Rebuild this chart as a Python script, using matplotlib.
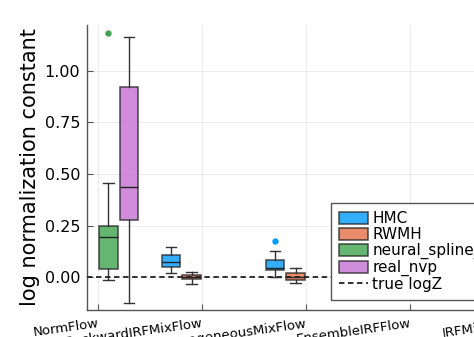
import matplotlib
matplotlib.use('Agg')
import matplotlib.pyplot as plt
from matplotlib.patches import Patch
from matplotlib.lines import Line2D

# x categories (tick positions at 0.5, 1.5, ...)
categories = ['NormFlow', 'BackwardIRFMixFlow', 'HomogeneousMixFlow',
              'EnsembleIRFFlow', 'IRFMixFlow']
methods = ['HMC', 'RWMH', 'neural_spline_flow', 'real_nvp']
colors = ['#009AFA', '#E36F47', '#3EA44E', '#C371D2']
offsets = [-0.3, -0.1, 0.1, 0.3]

# box stats: (category index, method index)
box_cat = [0, 0, 1, 1, 2, 2]
box_method = [2, 3, 0, 1, 0, 1]
whislo = [-0.015, -0.125, 0.019, -0.034, 0.000, -0.031]
q1 = [0.037, 0.277, 0.049, -0.010, 0.035, -0.015]
med = [0.193, 0.438, 0.073, 0.001, 0.042, 0.002]
q3 = [0.248, 0.921, 0.105, 0.010, 0.081, 0.019]
whishi = [0.455, 1.167, 0.147, 0.023, 0.128, 0.045]
fliers = [[1.183], [], [], [], [0.175], []]

true_logZ = 0.0

fig = plt.figure(figsize=(4.74, 3.37), dpi=100)
ax = fig.add_axes([87/474, 1-310/337, (525-87)/474, (310-25)/337])

for i in range(len(box_cat)):
    c = colors[box_method[i]]
    pos = box_cat[i] + 0.5 + offsets[box_method[i]]
    st = dict(whislo=whislo[i], q1=q1[i], med=med[i], q3=q3[i],
              whishi=whishi[i], fliers=fliers[i])
    ax.bxp([st], positions=[pos], widths=0.178, capwidths=0.1,
           patch_artist=True, manage_ticks=False,
           boxprops=dict(facecolor=c, alpha=0.8, edgecolor='#222222', lw=1.1),
           medianprops=dict(color='#222222', lw=1.0),
           whiskerprops=dict(color='#333333', lw=1.0),
           capprops=dict(color='#333333', lw=1.0),
           flierprops=dict(marker='o', markerfacecolor=c, markeredgecolor=c,
                           markersize=3.5))

ax.axhline(true_logZ, color='#222222', ls=(0, (3, 2)), lw=1.3, zorder=5)

ax.set_xlim(0.394, 4.606)
ax.set_ylim(-0.160, 1.223)
ax.set_xticks([k + 0.5 for k in range(len(categories))])
ax.set_xticklabels(categories, rotation=8, ha='right', va='top',
                   rotation_mode='anchor', fontsize=9.5)
ax.set_yticks([0, 0.25, 0.5, 0.75, 1.0])
ax.set_yticklabels(['0.00', '0.25', '0.50', '0.75', '1.00'], fontsize=11.5)
ax.tick_params(direction='in', length=4, color='#555555', width=0.8)
ax.tick_params(axis='y', pad=5)
ax.tick_params(axis='x', pad=5)
ax.set_ylabel('log normalization constant', fontsize=15, labelpad=3)
ax.grid(True, color='#ebebeb', lw=0.7)
ax.set_axisbelow(True)
for s in ['top', 'right']:
    ax.spines[s].set_visible(False)
for s in ['left', 'bottom']:
    ax.spines[s].set_color('#555555')
    ax.spines[s].set_linewidth(1.0)

handles = [Patch(facecolor=colors[k], alpha=0.8, edgecolor='#222222', lw=1.1)
           for k in range(len(methods))]
handles.append(Line2D([], [], color='#222222', ls=(0, (3, 2)), lw=1.3))
leg = ax.legend(handles, methods + ['true logZ'], loc='upper left',
                bbox_to_anchor=(331/474, 1-203/337), bbox_transform=fig.transFigure,
                fontsize=11, fancybox=False, framealpha=1, edgecolor='#555555',
                handlelength=1.9, handleheight=0.85, handletextpad=0.26,
                labelspacing=0.05, borderpad=0.55, borderaxespad=0)
leg.get_frame().set_linewidth(1.0)

fig.savefig('out.png', dpi=100)
